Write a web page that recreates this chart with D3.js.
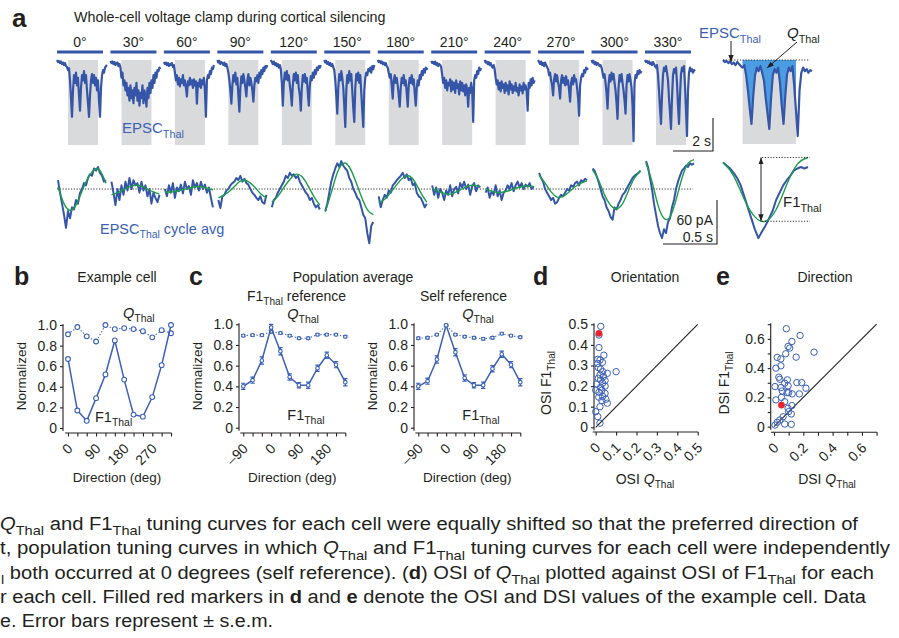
<!DOCTYPE html>
<html><head><meta charset="utf-8">
<script src="https://cdn.jsdelivr.net/npm/d3@7"></script>
<style>
body{margin:0;background:#fff}
svg text{font-family:"Liberation Sans",Arial,Helvetica,sans-serif}
</style>
</head><body>
<svg id="fig" width="899" height="638"></svg>
<script>
// ---------------- DATA ----------------
const directions = [0,30,60,90,120,150,180,210,240,270,300,330];
const sampleStep = 0.05;          // s, top traces
const stimOn = 0.55, stimOff = 2.05; // s, grating on/off
// inward EPSC amplitude (pA) per direction, 2.5 s, 0.05 s steps
const epscAmp = [
 [0,4,2,6,3,8,5,10,6,12,14,20,16,40,75,112,60,30,45,25,50,35,70,100,55,30,40,22,45,30,60,85,112,70,40,28,45,30,50,35,60,40,80,112,55,30,20,25,15,12,10],
 [2,6,3,8,4,10,6,5,12,8,15,35,25,50,40,60,45,70,55,80,50,75,60,85,55,70,45,80,60,90,65,75,50,85,60,70,92,55,75,45,65,40,55,30,45,25,35,20,22,15,18],
 [4,8,5,10,6,12,8,10,6,14,10,25,40,30,48,35,52,38,45,30,50,40,55,72,42,50,35,48,40,55,38,50,42,86,45,52,38,55,40,48,35,60,112,40,30,35,22,28,15,18,10],
 [0,5,2,8,4,6,10,5,12,8,15,25,40,60,86,50,30,42,25,48,35,70,102,55,32,45,28,40,55,72,40,28,50,35,45,60,82,50,35,42,30,45,25,35,20,28,15,22,12,15,10],
 [0,4,8,3,10,6,12,8,15,10,18,45,90,45,25,38,22,40,30,50,65,90,50,28,40,25,45,30,55,70,100,55,30,42,28,45,35,65,90,50,32,40,25,35,20,28,15,20,12,15,10],
 [0,5,2,8,4,10,6,12,8,14,20,40,70,106,55,28,40,22,35,55,90,132,60,30,45,22,40,28,60,95,122,55,28,40,25,45,30,65,100,132,60,35,25,30,18,22,15,25,12,18,10],
 [0,4,2,6,3,8,5,10,6,12,15,25,35,28,50,76,40,30,45,35,50,70,92,55,35,45,30,50,40,65,92,50,35,45,30,48,38,65,90,55,40,50,30,38,22,30,18,25,15,18,16],
 [2,6,4,8,3,10,6,12,8,10,14,30,45,35,55,40,60,45,50,38,62,42,58,45,65,40,55,48,68,42,60,45,62,50,70,48,58,92,55,65,45,60,122,40,30,35,22,28,15,20,16],
 [0,5,3,8,4,10,6,12,15,10,18,35,48,40,58,45,62,42,55,48,65,45,60,50,68,42,58,48,65,52,60,45,62,55,70,48,60,52,66,45,58,50,62,100,45,55,38,50,35,45,40],
 [0,4,8,3,10,6,12,5,10,14,18,30,25,40,50,70,38,28,42,30,45,55,76,40,30,45,35,50,32,48,40,60,82,45,35,48,30,42,38,55,75,110,50,35,28,32,20,25,15,18,16],
 [0,5,2,8,4,10,6,8,12,10,15,25,35,28,45,65,96,50,30,42,25,38,28,45,60,85,116,55,30,42,28,45,60,80,106,50,30,42,28,40,55,90,160,45,30,35,22,28,20,25,22],
 [0,4,2,6,3,8,5,10,4,8,12,15,10,30,60,95,126,70,30,15,22,12,25,40,75,105,136,75,30,18,25,15,45,90,126,70,28,15,22,12,50,100,150,60,25,15,22,18,25,20,22]
];
// cycle-averaged EPSC (pA, relative to mean), 25 samples over one cycle
const cycleAvg = [
 [12,-5,-20,-35,-53,-30,-40,-25,-28,-15,-20,-5,0,8,5,15,20,18,28,25,30,22,18,10,12],
 [10,-5,-22,0,-15,5,-8,10,-2,15,0,12,5,8,-5,10,-2,5,-10,0,-20,-5,-12,-18,-8],
 [0,-10,5,-5,8,-12,2,-3,6,-6,10,0,4,-8,12,2,8,-2,10,0,6,-5,2,-12,-25],
 [-15,-26,-10,-8,-2,0,5,8,10,15,12,18,10,14,8,6,0,-5,-8,-12,-15,-10,-18,-20,-8],
 [-25,-15,-12,-5,0,5,10,18,15,22,18,20,15,18,10,5,0,-5,-8,-15,-12,-20,-25,-22,-28],
 [-30,-20,-5,10,20,28,35,30,38,32,28,25,15,10,0,-5,-12,-15,-25,-35,-40,-60,-74,-50,-45],
 [-10,-25,-15,-8,-12,-2,-5,5,8,12,15,18,22,15,20,12,15,5,8,-5,-10,-12,-18,-25,-20],
 [5,-8,2,-12,0,-5,-15,-2,-8,5,-10,0,3,-6,8,2,10,0,6,-8,4,8,-3,5,2],
 [-5,2,-12,-3,-8,5,-10,-2,-15,-5,-2,5,0,8,-3,5,10,2,8,0,6,3,8,0,4],
 [22,15,10,0,-5,-10,-15,-12,-20,-18,-12,-8,-10,-5,0,-2,5,3,8,10,5,12,10,14,12],
 [28,25,18,10,0,-10,-15,-25,-30,-38,-42,-25,-28,-20,-15,-8,-5,0,5,10,15,18,20,22,25],
 [38,30,15,0,-20,-35,-50,-60,-67,-55,-60,-45,-40,-25,-15,0,10,18,25,28,32,30,35,33,35]
];
// F1 sinusoid fits (pA), 9 samples over one cycle
const cycleFit = [
 [3,-20,-29,-22,-3,15,26,25,8],
 [-8,-5,-1,3,5,4,0,-4,-7],
 [-4,-4,-3,-1,1,3,3,1,-1],
 [-12,-8,-2,6,12,10,3,-6,-12],
 [-18,-10,2,13,20,17,5,-10,-22],
 [-31,-5,22,35,30,12,-10,-28,-35],
 [-19,-14,-5,6,15,18,10,-5,-18],
 [1,-3,-6,-7,-4,0,4,5,3],
 [0,-3,-5,-4,-2,1,3,4,3],
 [19,8,-4,-11,-10,-4,3,8,11],
 [26,12,-8,-22,-27,-20,-2,15,25],
 [35,10,-22,-40,-38,-15,15,35,40]
];
const insetCycleAvg = [36,32,28,22,15,5,-10,-25,-40,-55,-67,-58,-50,-40,-30,-15,-5,5,12,18,25,28,30,28,30];
const insetCycleFit = [36,18,-14,-38,-44,-28,6,34,43];

// b: example cell
const exampleF1 = [0.67,0.17,0.07,0.29,0.52,0.85,0.47,0.13,0.11,0.30,0.61,1.0];
const exampleQ  = [0.91,0.98,0.89,0.84,1.0,0.96,0.97,0.96,0.94,0.88,0.95,0.92];
// c: population averages
const popDirections = [-90,-60,-30,0,30,60,90,120,150,180,210,240];
const refF1  = [0.40,0.46,0.65,0.97,0.74,0.49,0.41,0.41,0.575,0.70,0.61,0.44];
const refF1Sem = [0.03,0.03,0.035,0.03,0.035,0.03,0.025,0.03,0.03,0.03,0.03,0.035];
const refQ   = [0.89,0.895,0.895,0.93,0.915,0.89,0.865,0.865,0.90,0.90,0.90,0.88];
const refQSem = [0.01,0.01,0.01,0.015,0.01,0.01,0.01,0.01,0.01,0.01,0.01,0.01];
const selfF1 = [0.40,0.45,0.66,0.99,0.73,0.48,0.41,0.41,0.57,0.71,0.61,0.44];
const selfF1Sem = [0.03,0.03,0.035,0.01,0.035,0.03,0.025,0.03,0.03,0.03,0.03,0.035];
const selfQ  = [0.865,0.87,0.90,0.99,0.90,0.88,0.87,0.86,0.87,0.91,0.89,0.875];
const selfQSem = [0.01,0.01,0.01,0.005,0.01,0.01,0.01,0.01,0.01,0.01,0.01,0.01];
// d: orientation selectivity
const osiQ  = [0.025,0.016,0.016,0.04,0.01,0.021,0.033,0.01,0.013,0.024,0.034,0.057,0.1,0.021,0.038,0.013,0.024,0.046,0.034,0.005,0.046,0.024,0.0,0.03,0.016,0.046,0.034,0.015,0.05,0.03,0.057,0.021,0.0,0.01,0.021];
const osiF1 = [0.49,0.448,0.387,0.35,0.33,0.327,0.315,0.31,0.29,0.283,0.27,0.262,0.27,0.254,0.246,0.238,0.23,0.227,0.214,0.21,0.2,0.194,0.18,0.18,0.17,0.165,0.15,0.146,0.136,0.13,0.117,0.1,0.076,0.052,0.02];
const osiExample = [0.016, 0.456];
// e: direction selectivity
const dsiQ  = [0.084,0.178,0.122,0.096,0.107,0.273,0.08,0.022,0.047,0.151,0.047,0.013,0.033,0.04,0.091,0.073,0.156,0.189,0.007,0.047,0.096,0.056,0.089,0.1,0.124,0.173,0.218,0.051,0.013,0.073,0.122,0.096,0.1,0.118,0.062,0.04,0.022,0.007,0.073,0.118];
const dsiF1 = [0.669,0.623,0.582,0.548,0.537,0.509,0.498,0.473,0.463,0.475,0.416,0.4,0.338,0.324,0.32,0.297,0.301,0.301,0.274,0.267,0.279,0.244,0.233,0.233,0.224,0.224,0.263,0.2,0.183,0.171,0.144,0.126,0.103,0.087,0.068,0.046,0.03,0.011,0.018,0.016];
const dsiExample = [0.051, 0.148];
// tick values
const yTickNorm = [0,0.2,0.4,0.6,0.8,1.0];
const dirTicks = directions;
const dirLabels = [0,90,180,270];
const popLabels = [-90,0,90,180];
const osiTicks = [0,0.1,0.2,0.3,0.4,0.5];
const dsiTicks = [0,0.1,0.2,0.3,0.4,0.5,0.6,0.7];
const dsiLabels = [0,0.2,0.4,0.6];

// ---------------- STYLE ----------------
const ink = "#231f20", traceBlue = "#3556a8", markBlue = "#3a60b8", fitGreen = "#1d9e4a",
      grayBox = "#d9dadc", fillBlue = "#4a9de2", labelBlue = "#3a5fb5", red = "#e8262a";
const svg = d3.select("#fig");
const defs = svg.append("defs");
defs.append("marker").attr("id","arr").attr("viewBox","0 0 8 6").attr("refX",8).attr("refY",3)
  .attr("markerWidth",7).attr("markerHeight",5.5).attr("markerUnits","userSpaceOnUse")
  .attr("orient","auto-start-reverse").append("path").attr("d","M0,0L8,3L0,6Z").attr("fill",ink);

function rich(parent, x, y, parts, o={}){
  const fs = o.size||14;
  const t = parent.append("text").attr("x",x).attr("y",y).attr("font-size",fs)
    .attr("fill",o.color||ink).attr("text-anchor",o.anchor||"start");
  if(o.family) t.attr("font-family",o.family);
  if(o.transform) t.attr("transform",o.transform);
  if(o.weight) t.attr("font-weight",o.weight);
  let shift=0;
  parts.forEach(p=>{
    const s=t.append("tspan").text(p.t);
    const target = p.sub ? fs*0.3 : 0;
    if(target!==shift){ s.attr("dy",target-shift); shift=target; }
    if(p.sub) s.attr("font-size",fs*0.72);
    if(p.i) s.attr("font-style","italic");
    if(p.b) s.attr("font-weight","bold");
  });
  return t;
}
const S=(t)=>({t,sub:1}), I=(t)=>({t,i:1}), P=(t)=>({t});

// ---------------- PANEL a ----------------
svg.append("text").attr("x",12).attr("y",27).attr("font-size",26).attr("font-weight","bold").attr("fill",ink).text("a");
svg.append("text").attr("x",74).attr("y",22).attr("font-size",14.3).attr("fill",ink).text("Whole-cell voltage clamp during cortical silencing");

const xStart = d3.scaleLinear().domain([0,330]).range([57,645]);
const tTop = d3.scaleLinear().domain([0,2.5]).range([0,50]);
const yTop = d3.scaleLinear().domain([0,140]).range([60,131]);
const gA = svg.append("g");
directions.forEach((dir,k)=>{
  const x0 = xStart(dir);
  gA.append("line").attr("x1",x0).attr("x2",x0+tTop(2.3)).attr("y1",52).attr("y2",52)
    .attr("stroke",traceBlue).attr("stroke-width",3.2);
  gA.append("text").attr("x",x0+tTop(1.15)).attr("y",47).attr("text-anchor","middle")
    .attr("font-size",14).attr("fill",ink).text(dir+"°");
  gA.append("rect").attr("x",x0+tTop(stimOn)).attr("width",tTop(stimOff)-tTop(stimOn))
    .attr("y",60).attr("height",85).attr("fill",grayBox);
  const line = d3.line().x((v,i)=>x0+tTop(i*sampleStep)).y(v=>yTop(v));
  gA.append("path").attr("d",line(epscAmp[k])).attr("fill","none")
    .attr("stroke",traceBlue).attr("stroke-width",2.2).attr("stroke-linejoin","round");
});
rich(gA,122,133,[P("EPSC"),S("Thal")],{size:15,color:labelBlue});

// inset (magnified 330° trace)
const tIn = d3.scaleLinear().domain([0,2.5]).range([723,812]);
const insetTrace = epscAmp[11];
gA.append("rect").attr("x",tIn(stimOn)).attr("width",tIn(stimOff)-tIn(stimOn)).attr("y",60).attr("height",84).attr("fill",grayBox);
const stimSamples = insetTrace.map((v,i)=>({t:i*sampleStep,v})).filter(d=>d.t>=stimOn-1e-9 && d.t<=stimOff+1e-9);
gA.append("path").attr("d",d3.area().x(d=>tIn(d.t)).y0(yTop(0)).y1(d=>yTop(d.v))(stimSamples)).attr("fill",fillBlue);
gA.append("path").attr("d",d3.line().x((v,i)=>tIn(i*sampleStep)).y(v=>yTop(v))(insetTrace))
  .attr("fill","none").attr("stroke",traceBlue).attr("stroke-width",2.2).attr("stroke-linejoin","round");
gA.append("line").attr("x1",723).attr("x2",810).attr("y1",yTop(0)).attr("y2",yTop(0))
  .attr("stroke",ink).attr("stroke-width",0.9).attr("stroke-dasharray","1.2,1.6");
rich(gA,699,38,[P("EPSC"),S("Thal")],{size:15,color:labelBlue});
rich(gA,787,38,[I("Q"),S("Thal")],{size:15});
gA.append("line").attr("x1",731).attr("y1",41).attr("x2",731).attr("y2",62).attr("stroke",ink).attr("stroke-width",1).attr("marker-end","url(#arr)");
gA.append("line").attr("x1",797).attr("y1",42).attr("x2",767).attr("y2",68).attr("stroke",ink).attr("stroke-width",1).attr("marker-end","url(#arr)");
// top scale bar (2 s)
const sbX = 713, sbY = 151;
gA.append("path").attr("d",`M${sbX-tTop(2)},${sbY}H${sbX}V${sbY-(yTop(65)-yTop(0))}`).attr("fill","none").attr("stroke",ink).attr("stroke-width",1.1);
gA.append("text").attr("x",711).attr("y",146).attr("text-anchor","end").attr("font-size",14).attr("fill",ink).text("2 s");

// cycle averages
const yCyc = d3.scaleLinear().domain([-60,60]).range([233,145]);
const phase = d3.scaleLinear().domain([0,1]).range([1,49]);
gA.append("line").attr("x1",57).attr("x2",693).attr("y1",yCyc(0)).attr("y2",yCyc(0))
  .attr("stroke",ink).attr("stroke-width",0.9).attr("stroke-dasharray","1.2,1.6");
const avgLine = (x0,x1)=>d3.line().x((v,i,a)=>x0+(x1-x0)*i/(a.length-1)).y(v=>yCyc(v));
const fitLine = (x0,x1)=>d3.line().curve(d3.curveNatural).x((v,i,a)=>x0+(x1-x0)*i/(a.length-1)).y(v=>yCyc(v));
directions.forEach((dir,k)=>{
  const x0 = xStart(dir)+phase(0), x1 = xStart(dir)+phase(1);
  gA.append("path").attr("d",avgLine(x0,x1)(cycleAvg[k])).attr("fill","none").attr("stroke",traceBlue).attr("stroke-width",2).attr("stroke-linejoin","round");
  gA.append("path").attr("d",fitLine(x0,x1)(cycleFit[k])).attr("fill","none").attr("stroke",fitGreen).attr("stroke-width",1.4);
});
gA.append("path").attr("d",avgLine(723,808)(insetCycleAvg)).attr("fill","none").attr("stroke",traceBlue).attr("stroke-width",2).attr("stroke-linejoin","round");
gA.append("path").attr("d",fitLine(723,808)(insetCycleFit)).attr("fill","none").attr("stroke",fitGreen).attr("stroke-width",1.4);
const fMax = yCyc(d3.max(insetCycleFit)), fMin = yCyc(d3.min(insetCycleFit));
[fMax,fMin].forEach(y=>gA.append("line").attr("x1",762).attr("x2",810).attr("y1",y).attr("y2",y)
  .attr("stroke",ink).attr("stroke-width",0.9).attr("stroke-dasharray","1.2,1.6"));
gA.append("line").attr("x1",761).attr("x2",761).attr("y1",fMax).attr("y2",fMin).attr("stroke",ink).attr("stroke-width",1)
  .attr("marker-start","url(#arr)").attr("marker-end","url(#arr)");
rich(gA,783,207,[P("F1"),S("Thal")],{size:15});
rich(gA,100,234,[P("EPSC"),S("Thal"),P(" cycle avg")],{size:14.5,color:labelBlue});
// bottom scale bar
const cbX = 717, cbY = 244;
gA.append("path").attr("d",`M${cbX-54},${cbY}H${cbX}V${cbY-(yCyc(0)-yCyc(60))}`).attr("fill","none").attr("stroke",ink).attr("stroke-width",1.1);
gA.append("text").attr("x",713).attr("y",225).attr("text-anchor","end").attr("font-size",14).attr("fill",ink).text("60 pA");
gA.append("text").attr("x",713).attr("y",242).attr("text-anchor","end").attr("font-size",14).attr("fill",ink).text("0.5 s");

// ---------------- helpers for b–e ----------------
function axes(o){
  const gy = svg.append("g").attr("transform",`translate(${o.yAxisX},0)`)
    .call(d3.axisLeft(o.y).tickValues(o.yTicks).tickSize(3).tickSizeOuter(0).tickPadding(3)
      .tickFormat(d=>o.yShow(d)?o.yFmt(d):""));
  const gx = svg.append("g").attr("transform",`translate(0,${o.xAxisY})`)
    .call(d3.axisBottom(o.x).tickValues(o.xTicks).tickSize(3.5).tickSizeOuter(0)
      .tickFormat(d=>o.xShow(d)?o.xFmt(d):""));
  const r = o.x.range();
  gx.select(".domain").attr("d",`M${r[0]-3},0H${r[1]+0.5}`);
  const ry = o.y.range();
  gy.select(".domain").attr("d",`M0,${ry[0]+3}V${ry[1]-1}`);
  gx.selectAll("text").attr("y",null).attr("dy","0.35em").attr("text-anchor","end")
    .attr("transform","translate(1.5,13) rotate(-45)");
  [gx,gy].forEach(g=>{
    g.attr("font-size",14).attr("font-family",null);
    g.selectAll("path,line").attr("stroke",ink).attr("stroke-width",1.1);
    g.selectAll("text").attr("fill",ink);
  });
}
const fmt1 = d=> d===0?"0":d3.format(".1f")(d);
const fmtDeg = d=> d<0 ? "\u2013"+Math.abs(d) : String(d);

function tuning(xs, ys, xvals, vals, sem, dotted, r){
  const g = svg.append("g");
  const ln = d3.line().x((v,i)=>xs(xvals[i])).y(v=>ys(v));
  g.append("path").attr("d",ln(vals)).attr("fill","none").attr("stroke",markBlue)
    .attr("stroke-width",dotted?1.1:1.5).attr("stroke-dasharray",dotted?"1.3,2":null);
  if(sem){
    vals.forEach((v,i)=>{
      const x=xs(xvals[i]);
      g.append("path").attr("d",`M${x},${ys(v-sem[i])}V${ys(v+sem[i])}M${x-2.2},${ys(v-sem[i])}h4.4M${x-2.2},${ys(v+sem[i])}h4.4`)
        .attr("stroke",markBlue).attr("stroke-width",1.2).attr("fill","none");
    });
  }
  g.selectAll("circle").data(vals).join("circle").attr("cx",(v,i)=>xs(xvals[i])).attr("cy",v=>ys(v))
    .attr("r",r).attr("fill","#fff").attr("stroke",markBlue).attr("stroke-width",1.1);
}

// ---------------- PANEL b ----------------
svg.append("text").attr("x",14).attr("y",285).attr("font-size",25).attr("font-weight","bold").attr("fill",ink).text("b");
svg.append("text").attr("x",117).attr("y",282).attr("text-anchor","middle").attr("font-size",14).attr("fill",ink).text("Example cell");
const xb = d3.scaleLinear().domain([0,330]).range([68,171]);
const yb = d3.scaleLinear().domain([0,1]).range([428,325]);
axes({x:xb,y:yb,yAxisX:63,xAxisY:433,xTicks:dirTicks,xShow:d=>dirLabels.includes(d),xFmt:fmtDeg,
      yTicks:yTickNorm,yShow:()=>true,yFmt:fmt1});
tuning(xb,yb,directions,exampleQ,null,true,2.4);
tuning(xb,yb,directions,exampleF1,null,false,2.4);
rich(svg,123,318,[I("Q"),S("Thal")],{size:14.5});
rich(svg,95,422,[P("F1"),S("Thal")],{size:14.5});
svg.append("text").attr("transform","translate(26,376) rotate(-90)").attr("text-anchor","middle").attr("font-size",13.5).attr("fill",ink).text("Normalized");
svg.append("text").attr("x",117).attr("y",482).attr("text-anchor","middle").attr("font-size",13.5).attr("fill",ink).text("Direction (deg)");

// ---------------- PANEL c ----------------
svg.append("text").attr("x",189).attr("y",285).attr("font-size",25).attr("font-weight","bold").attr("fill",ink).text("c");
svg.append("text").attr("x",353).attr("y",282).attr("text-anchor","middle").attr("font-size",14).attr("fill",ink).text("Population average");
rich(svg,247,301,[P("F1"),S("Thal"),P(" reference")],{size:14});
svg.append("text").attr("x",420).attr("y",301).attr("font-size",14).attr("fill",ink).text("Self reference");
[[243.3,239,refF1,refF1Sem,refQ,refQSem],[418.3,414,selfF1,selfF1Sem,selfQ,selfQSem]].forEach(([x0,ax,f1,f1s,q,qs])=>{
  const xc = d3.scaleLinear().domain([-90,240]).range([x0,x0+102]);
  const yc = d3.scaleLinear().domain([0,1]).range([427.7,324.3]);
  axes({x:xc,y:yc,yAxisX:ax,xAxisY:433,xTicks:popDirections,xShow:d=>popLabels.includes(d),xFmt:fmtDeg,
        yTicks:yTickNorm,yShow:()=>true,yFmt:fmt1});
  tuning(xc,yc,popDirections,q,qs,true,1.6);
  tuning(xc,yc,popDirections,f1,f1s,false,1.8);
  rich(svg,x0+44,319,[I("Q"),S("Thal")],{size:14.5});
  rich(svg,x0+44,420,[P("F1"),S("Thal")],{size:14.5});
  svg.append("text").attr("transform",`translate(${ax-37},376) rotate(-90)`).attr("text-anchor","middle").attr("font-size",13.5).attr("fill",ink).text("Normalized");
  svg.append("text").attr("x",x0+49).attr("y",482).attr("text-anchor","middle").attr("font-size",13.5).attr("fill",ink).text("Direction (deg)");
});

// ---------------- PANEL d ----------------
svg.append("text").attr("x",533).attr("y",285).attr("font-size",25).attr("font-weight","bold").attr("fill",ink).text("d");
svg.append("text").attr("x",645).attr("y",282).attr("text-anchor","middle").attr("font-size",14).attr("fill",ink).text("Orientation");
const xd = d3.scaleLinear().domain([0,0.5]).range([595.7,697.7]);
const yd = d3.scaleLinear().domain([0,0.5]).range([427.3,324.3]);
axes({x:xd,y:yd,yAxisX:594,xAxisY:432,xTicks:osiTicks,xShow:()=>true,xFmt:fmt1,yTicks:osiTicks,yShow:()=>true,yFmt:fmt1});
svg.append("line").attr("x1",xd(0)).attr("y1",yd(0)).attr("x2",xd(0.5)).attr("y2",yd(0.5)).attr("stroke",ink).attr("stroke-width",1.1);
svg.append("g").selectAll("circle").data(osiQ).join("circle").attr("cx",d=>xd(d)).attr("cy",(d,i)=>yd(osiF1[i]))
  .attr("r",3.2).attr("fill","none").attr("stroke",markBlue).attr("stroke-width",1);
svg.append("circle").attr("cx",xd(osiExample[0])).attr("cy",yd(osiExample[1])).attr("r",3.4).attr("fill",red);
rich(svg,0,0,[P("OSI F1"),S("Thal")],{size:14,anchor:"middle",transform:"translate(551,383) rotate(-90)"});
rich(svg,645,484,[P("OSI "),I("Q"),S("Thal")],{size:14,anchor:"middle"});

// ---------------- PANEL e ----------------
svg.append("text").attr("x",716).attr("y",285).attr("font-size",25).attr("font-weight","bold").attr("fill",ink).text("e");
svg.append("text").attr("x",825).attr("y",282).attr("text-anchor","middle").attr("font-size",14).attr("fill",ink).text("Direction");
const xe = d3.scaleLinear().domain([0,0.7]).range([774,876.6]);
const ye = d3.scaleLinear().domain([0,0.7]).range([426.7,324.2]);
axes({x:xe,y:ye,yAxisX:770.7,xAxisY:432.3,xTicks:dsiTicks,xShow:d=>dsiLabels.some(l=>Math.abs(l-d)<1e-9),xFmt:fmt1,
      yTicks:dsiTicks,yShow:d=>dsiLabels.some(l=>Math.abs(l-d)<1e-9),yFmt:fmt1});
svg.append("line").attr("x1",xe(0)).attr("y1",ye(0)).attr("x2",xe(0.7)).attr("y2",ye(0.7)).attr("stroke",ink).attr("stroke-width",1.1);
svg.append("g").selectAll("circle").data(dsiQ).join("circle").attr("cx",d=>xe(d)).attr("cy",(d,i)=>ye(dsiF1[i]))
  .attr("r",3.2).attr("fill","none").attr("stroke",markBlue).attr("stroke-width",1);
svg.append("circle").attr("cx",xe(dsiExample[0])).attr("cy",ye(dsiExample[1])).attr("r",3.4).attr("fill",red);
rich(svg,0,0,[P("DSI F1"),S("Thal")],{size:14,anchor:"middle",transform:"translate(729,383) rotate(-90)"});
rich(svg,827,484,[P("DSI "),I("Q"),S("Thal")],{size:14,anchor:"middle"});

// ---------------- caption ----------------
const B=(t)=>({t,b:1});
const captionLines = [
 [I("Q"),S("Thal"),P(" and F1"),S("Thal"),P(" tuning curves for each cell were equally shifted so that the preferred direction of")],
 [P("t, population tuning curves in which "),I("Q"),S("Thal"),P(" and F1"),S("Thal"),P(" tuning curves for each cell were independently")],
 [S("l"),P(" both occurred at 0 degrees (self reference). ("),B("d"),P(") OSI of "),I("Q"),S("Thal"),P(" plotted against OSI of F1"),S("Thal"),P(" for each")],
 [P("r each cell. Filled red markers in "),B("d"),P(" and "),B("e"),P(" denote the OSI and DSI values of the example cell. Data")],
 [P("e. Error bars represent \u00b1 s.e.m.")]
];
const capWidths = [858,890,873,866,273];
const capX = [0,0,1,0,0];
const capFamily = "'Liberation Sans Narrow','DejaVu Sans Condensed','Arial Narrow',sans-serif";
captionLines.forEach((parts,k)=>{
  const t = rich(svg,capX[k],530+k*24.3,parts,{size:18,family:capFamily});
  t.attr("textLength",capWidths[k]).attr("lengthAdjust","spacingAndGlyphs");
});
</script>
</body></html>
